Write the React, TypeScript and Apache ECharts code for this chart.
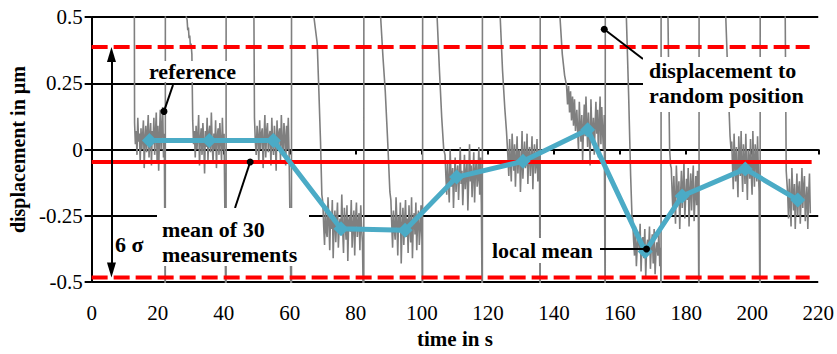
import React, { useEffect, useRef } from "react";
import * as echarts from "echarts";

const FONT = "serif";

// axis ticks
const xMin = 0, xMax = 220, xStep = 20;
const yMin = -0.5, yMax = 0.5, yStep = 0.25;

// local means (blue)
const meanTimes = [17.5, 35.6, 55.0, 75.5, 94.9, 110.5, 130.6, 150.2, 167.6, 178.8, 197.9, 213.8];
const meanValues = [0.034, 0.034, 0.034, -0.299, -0.304, -0.104, -0.044, 0.075, -0.385, -0.175, -0.073, -0.19];

// mean of 30 measurements and ±3σ
const globalMean = -0.047;
const sigmaUpper = 0.387;
const sigmaLower = -0.483;
const refLineEnd = 218;
const dashLineEnd = 217.4;
const sigmaArrowTime = 6;

// raw trace: approach (entry) paths, plateau samples, plateau spans, exits
const entry1 = [[12.9, 0.7]];
const entry2 = [[28.6, 0.7], [28.65, 0.5], [28.9, 0.49], [29.1, 0.45], [29.3, 0.46], [29.5, 0.42], [29.7, 0.43], [29.9, 0.39], [30.1, 0.4], [30.35, 0.36]];
const entry3 = [[49.05, 0.7]];
const entry4 = [[67.2, 0.7], [67.3, 0.5], [67.8, 0.45], [68.3, 0.4], [68.8, 0.22], [69.3, 0.03], [69.7, -0.17]];
const entry5 = [[87.4, 0.7], [87.5, 0.5], [88.2, 0.35], [88.9, 0.22], [89.6, 0.04], [90.3, -0.16]];
const entry6 = [[104.5, 0.7], [104.6, 0.5], [105.3, 0.3], [106.0, 0.12], [106.6, 0.0]];
const entry7 = [[123.6, 0.7], [123.7, 0.5], [124.4, 0.3], [125.1, 0.155], [125.6, 0.07]];
const entry8 = [[141.7, 0.7], [141.8, 0.5], [142.5, 0.36], [143.2, 0.28], [143.8, 0.24], [144.1, 0.17], [144.4, 0.24], [144.7, 0.14], [145.0, 0.22], [145.3, 0.11], [145.6, 0.2], [145.9, 0.09], [146.2, 0.19], [146.5, 0.07]];
const entry9 = [[161.8, 0.7], [161.9, 0.5], [162.6, 0.2], [163.2, -0.1], [163.6, -0.25]];
const entry10 = [[174.4, 0.7], [174.5, 0.5], [175.0, 0.0], [175.3, -0.06]];
const entry11 = [[191.9, 0.7], [192.0, 0.5], [192.7, 0.25], [193.3, 0.05], [193.6, 0.0]];
const entry12 = [[209.9, 0.7], [210.0, 0.5], [210.3, -0.08]];

const plateau1 = [0.1, 0.02, 0.07, -0.02, 0.12, 0.03, 0.06, -0.05, 0.08, 0.0, 0.05, 0.11, -0.07, 0.04, 0.09, -0.01, 0.06, 0.13, -0.03, 0.05, 0.1, -0.06, 0.07, 0.02, 0.12, -0.02, 0.06, 0.14, -0.04, 0.09, -0.08, 0.05, 0.15, 0.0, 0.08, 0.16, -0.03, 0.06];
const plateau2 = [0.11, 0.02, 0.07, -0.03, 0.09, 0.0, 0.05, 0.13, -0.06, 0.04, 0.08, -0.02, 0.1, 0.03, -0.09, 0.07, 0.01, 0.12, -0.04, 0.06, 0.09, -0.01, 0.14, 0.02, -0.05, 0.06, 0.0, 0.11, -0.07, 0.05, 0.08, -0.02, 0.1, 0.03, -0.04, 0.12, 0.0, 0.06];
const plateau3 = [0.12, 0.03, -0.02, 0.09, 0.05, -0.05, 0.11, 0.0, 0.06, 0.08, -0.07, 0.04, 0.13, -0.03, 0.07, 0.1, -0.01, 0.05, 0.07, -0.06, 0.12, 0.02, -0.02, 0.09, 0.04, -0.08, 0.11, 0.01, 0.06, 0.08, -0.04, 0.13, 0.03, -0.02, 0.1, 0.05, -0.06, 0.09, 0.0, 0.12, -0.03];
const plateau4 = [-0.2, -0.29, -0.36, -0.22, -0.31, -0.33, -0.18, -0.27, -0.38, -0.24, -0.3, -0.19, -0.41, -0.28, -0.23, -0.35, -0.27, -0.2, -0.37, -0.29, -0.26, -0.32, -0.17, -0.3, -0.39, -0.22, -0.28, -0.34, -0.21, -0.42, -0.27, -0.25, -0.31, -0.19, -0.37, -0.29, -0.23, -0.4, -0.26, -0.2, -0.33, -0.28, -0.24, -0.38, -0.21, -0.3, -0.35];
const plateau5 = [-0.19, -0.28, -0.37, -0.23, -0.3, -0.34, -0.18, -0.27, -0.4, -0.25, -0.31, -0.2, -0.43, -0.29, -0.22, -0.36, -0.27, -0.19, -0.33, -0.26, -0.39, -0.21, -0.3, -0.35, -0.18, -0.41, -0.28, -0.24, -0.32, -0.2, -0.38, -0.27, -0.23, -0.36, -0.3, -0.21, -0.34];
const plateau6 = [-0.02, -0.1, -0.17, -0.05, -0.12, -0.2, 0.0, -0.09, -0.14, -0.07, -0.22, -0.11, -0.03, -0.16, -0.09, -0.06, -0.19, -0.1, 0.01, -0.13, -0.08, -0.21, -0.12, -0.02, -0.15, -0.09, -0.05, -0.23, -0.11, 0.02, -0.12, -0.06, -0.18, -0.1, -0.01, -0.2, -0.08, -0.04, -0.14, -0.11, 0.01, -0.17, -0.03, -0.21];
const plateau7 = [0.07, -0.03, -0.1, 0.04, -0.05, -0.12, 0.06, -0.02, -0.08, 0.02, -0.14, -0.04, 0.05, -0.09, -0.01, 0.0, -0.16, -0.06, 0.07, -0.11, -0.03, 0.03, -0.07, -0.05, 0.06, -0.13, -0.02, 0.01, -0.1, -0.04, 0.05, -0.15, -0.03, 0.02, -0.09, -0.06, 0.04, -0.12, 0.0, -0.08];
const plateau8 = [0.15, 0.07, 0.0, 0.18, 0.09, 0.03, 0.13, -0.04, 0.08, 0.17, 0.05, 0.2, 0.1, 0.01, 0.14, 0.06, -0.06, 0.19, 0.08, 0.04, 0.12, -0.02, 0.09, 0.18, 0.06, 0.15, -0.03, 0.1, 0.2, 0.02, 0.16, 0.07, 0.0, 0.13];
const plateau9 = [-0.26, -0.34, -0.4, -0.29, -0.44, -0.36, -0.31, -0.38, -0.28, -0.46, -0.35, -0.33, -0.41, -0.3, -0.48, -0.37, -0.34, -0.39, -0.29, -0.45, -0.36, -0.32, -0.43, -0.3, -0.47, -0.38, -0.35, -0.4, -0.31, -0.44, -0.37];
const plateau10 = [-0.07, -0.16, -0.24, -0.1, -0.19, -0.28, -0.06, -0.15, -0.2, -0.12, -0.3, -0.17, -0.08, -0.22, -0.14, -0.05, -0.26, -0.18, -0.11, -0.19, -0.07, -0.29, -0.16, -0.09, -0.23, -0.13, -0.06, -0.27, -0.18, -0.1, -0.21, -0.08, -0.25];
const plateau11 = [0.03, -0.06, -0.15, 0.06, -0.04, -0.12, 0.01, -0.09, -0.18, 0.05, -0.03, -0.1, 0.07, -0.07, -0.16, 0.02, -0.05, -0.13, 0.06, -0.08, -0.19, 0.0, -0.04, -0.11, 0.04, -0.09, -0.17, 0.07, -0.06, -0.14, 0.02, -0.03, -0.12, 0.05, -0.08, -0.16];
const plateau12 = [-0.08, -0.17, -0.26, -0.11, -0.2, -0.29, -0.07, -0.16, -0.23, -0.13, -0.3, -0.19, -0.09, -0.25, -0.15, -0.12, -0.28, -0.18, -0.07, -0.22, -0.14, -0.1, -0.27, -0.19, -0.14, -0.3, -0.17, -0.09, -0.24];

const plateauSpans = [[13.0, 22.0], [30.6, 40.1], [49.3, 59.8], [70.0, 82.0], [90.6, 100.0], [107.0, 118.0], [125.8, 135.6], [146.9, 155.2], [163.8, 172.3], [175.5, 183.7], [193.8, 202.1], [210.5, 217.6]];
const exitTimes = [22.3, 40.7, 60.5, 82.4, 100.2, 118.3, 135.8, 155.5, 172.4, 183.9, 202.4, null];

const entries = [entry1, entry2, entry3, entry4, entry5, entry6, entry7, entry8, entry9, entry10, entry11, entry12];
const plateaus = [plateau1, plateau2, plateau3, plateau4, plateau5, plateau6, plateau7, plateau8, plateau9, plateau10, plateau11, plateau12];

// annotation anchors (data)
const refDot = [21.9, 0.144];
const meanDot = [48, globalMean];
const localDot = [168.0, -0.375];
const dispDot = [155.2, 0.454];

function buildTrace() {
  const out: number[][] = [];
  for (let i = 0; i < plateaus.length; i++) {
    entries[i].forEach((p) => out.push(p));
    const vals = plateaus[i];
    const [a, b] = plateauSpans[i];
    vals.forEach((v, k) => out.push([a + ((b - a) * k) / (vals.length - 1), v]));
    const ex = exitTimes[i];
    if (ex != null) {
      out.push([ex, -0.7]);
      out.push([ex + 0.02, 0.7]);
    }
  }
  return out;
}

export default function App() {
  const ref = useRef<HTMLDivElement>(null);
  useEffect(() => {
    if (!ref.current) return;
    const chart = echarts.init(ref.current, undefined, { renderer: "svg" });

    const txt = (text: string, x: number, y: number) => ({
      type: "text",
      z: 101,
      x,
      y,
      style: { text, fontFamily: FONT, fontWeight: "bold", fontSize: 22, fill: "#000" },
    });
    const box = (x: number, y: number, w: number, h: number) => ({
      type: "rect",
      z: 100,
      shape: { x, y, width: w, height: h },
      style: { fill: "#fff" },
    });

    chart.setOption({
      animation: false,
      backgroundColor: "#fff",
      grid: { left: 90, right: 17, top: 17, bottom: 67 },
      xAxis: {
        type: "value",
        min: xMin,
        max: xMax,
        interval: xStep,
        name: "time in s",
        nameLocation: "middle",
        nameGap: 45,
        nameTextStyle: { fontFamily: FONT, fontWeight: "bold", fontSize: 21, color: "#000" },
        axisLine: { show: true, lineStyle: { color: "#000", width: 2 } },
        axisTick: { show: true, length: 5, lineStyle: { color: "#000", width: 2 } },
        axisLabel: { margin: 20, fontFamily: FONT, fontSize: 21, color: "#000" },
        splitLine: { show: false },
      },
      yAxis: {
        type: "value",
        min: yMin,
        max: yMax,
        interval: yStep,
        name: "displacement in µm",
        nameLocation: "middle",
        nameGap: 62,
        nameTextStyle: { fontFamily: FONT, fontWeight: "bold", fontSize: 20, color: "#000" },
        axisLine: { show: true, lineStyle: { color: "#000", width: 2 } },
        axisTick: { show: true, length: 7, lineStyle: { color: "#000", width: 2 } },
        axisLabel: { margin: 9, fontFamily: FONT, fontSize: 21, color: "#000" },
        splitLine: { show: true, lineStyle: { color: "#000", width: 2 } },
      },
      graphic: [
        box(145, 61, 97, 21),
        box(157, 208, 152, 58),
        box(488, 238, 112, 25),
        box(643, 57, 177, 55),
        txt("reference", 149, 60),
        txt("mean of 30", 162, 218),
        txt("measurements", 162, 243),
        txt("6 σ", 115, 233),
        txt("local mean", 492, 239),
        txt("displacement to", 649, 59),
        txt("random position", 649, 84),
      ],
      series: [
        {
          type: "line",
          data: buildTrace(),
          showSymbol: false,
          symbol: "none",
          clip: true,
          lineStyle: { color: "#7f7f7f", width: 1.6 },
          z: 2,
          silent: true,
        },
        {
          type: "line",
          data: [[0, globalMean], [refLineEnd, globalMean]],
          symbol: "none",
          lineStyle: { color: "#ff0000", width: 4 },
          z: 3,
          silent: true,
        },
        {
          type: "line",
          data: [[0, sigmaUpper], [dashLineEnd, sigmaUpper]],
          symbol: "none",
          lineStyle: { color: "#ff0000", width: 4, type: [16, 6] },
          z: 3,
          silent: true,
        },
        {
          type: "line",
          data: [[0, sigmaLower], [dashLineEnd, sigmaLower]],
          symbol: "none",
          lineStyle: { color: "#ff0000", width: 4, type: [16, 6] },
          z: 3,
          silent: true,
        },
        {
          type: "line",
          data: meanTimes.map((t, i) => [t, meanValues[i]]),
          symbol: "diamond",
          symbolSize: 15,
          itemStyle: { color: "#4babc6" },
          lineStyle: { color: "#4babc6", width: 5 },
          z: 4,
          silent: true,
        },
        {
          type: "line",
          data: [],
          z: 120,
          silent: true,
          markLine: {
            silent: true,
            symbol: ["none", "none"],
            label: { show: false },
            lineStyle: { color: "#000", width: 2, type: "solid" },
            data: [
              [{ coord: refDot }, { x: 173, y: 85 }],
              [{ coord: meanDot }, { x: 235, y: 208 }],
              [{ coord: localDot }, { x: 600, y: 249 }],
              [{ coord: dispDot }, { x: 643, y: 59 }],
              [{ coord: [sigmaArrowTime, sigmaUpper - 0.03] }, { coord: [sigmaArrowTime, sigmaLower + 0.03] }],
            ],
          },
          markPoint: {
            silent: true,
            label: { show: false },
            data: [
              { coord: refDot, symbol: "circle", symbolSize: 7, itemStyle: { color: "#000" } },
              { coord: meanDot, symbol: "circle", symbolSize: 7, itemStyle: { color: "#000" } },
              { coord: localDot, symbol: "circle", symbolSize: 7, itemStyle: { color: "#000" } },
              { coord: dispDot, symbol: "circle", symbolSize: 7, itemStyle: { color: "#000" } },
              { coord: [sigmaArrowTime, sigmaUpper], symbol: "triangle", symbolSize: [9, 15], symbolOffset: [0, "50%"], itemStyle: { color: "#000" } },
              { coord: [sigmaArrowTime, sigmaLower], symbol: "triangle", symbolSize: [9, 15], symbolRotate: 180, symbolOffset: [0, "-50%"], itemStyle: { color: "#000" } },
            ],
          },
        },
      ],
    });
    return () => chart.dispose();
  }, []);
  return <div ref={ref} style={{ position: "fixed", left: 0, top: 0, width: 837, height: 354, background: "#fff" }} />;
}
